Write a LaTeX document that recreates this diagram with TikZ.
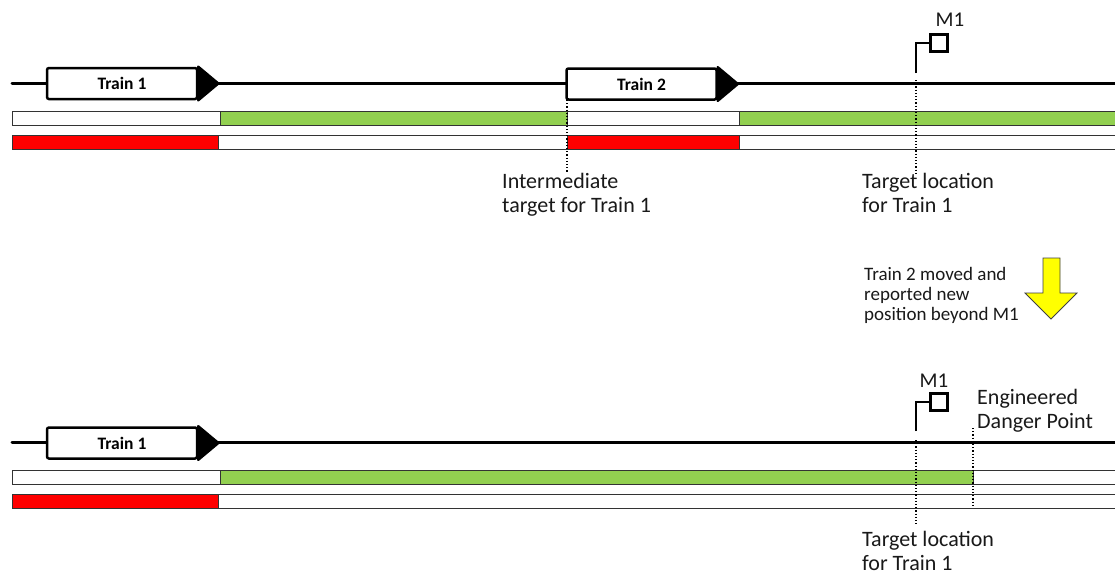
\documentclass[tikz,border=0pt]{standalone}
\usepackage{fontspec}
\setmainfont{Carlito}
\usetikzlibrary{calc}
\definecolor{bargreen}{HTML}{92D050}
\definecolor{barred}{HTML}{FF0000}
\definecolor{arrowyellow}{HTML}{FFFF00}
\tikzset{
  track/.style={line width=3pt, line cap=round},
  trainbox/.style={draw, fill=white, line width=2.5pt, rounded corners=2pt, minimum width=150pt, minimum height=31pt, inner sep=0pt, font=\fontsize{17.5}{20}\selectfont\bfseries},
  trainhead/.style={fill=black, draw, line width=2.5pt, line join=round},
  barseg/.style={draw=black!80, line width=0.8pt},
  signalpost/.style={line width=2.5pt},
  signalbox/.style={draw, fill=white, line width=2.5pt, minimum size=17pt, inner sep=0pt},
  marker/.style={dotted, line width=1.2pt},
  lbl/.style={font=\fontsize{22}{24}\selectfont, align=left, inner sep=0pt, text=black!90},
  smalllbl/.style={font=\fontsize{19}{20}\selectfont, align=left, inner sep=0pt, text=black!90},
  siglbl/.style={font=\fontsize{21}{22}\selectfont, inner sep=0pt, text=black!90},
}
\begin{document}
\begin{tikzpicture}[x=1pt,y=-1pt]
\clip (0,0) rectangle (1115,573);
\fill[white] (0,0) rectangle (1115,573);

% ===== Top situation =====
\coordinate (trA) at (12,83);
\coordinate (trB) at (1120,83);
\draw[track] (trA) -- (trB);

% bars
\draw[barseg, fill=white] (12,111) rectangle (1120,125);
\draw[barseg, fill=bargreen] (220,111) rectangle (567,125);
\draw[barseg, fill=bargreen] (739,111) rectangle (1120,125);
\draw[barseg, fill=white] (12,135) rectangle (1120,149);
\draw[barseg, fill=barred] (12,135) rectangle (218,149);
\draw[barseg, fill=barred] (567,135) rectangle (739,149);

% trains
\node[trainbox] (t1) at (122,83.5) {Train 1};
\draw[trainhead] (t1.north east) -- ($(t1.east)+(20,0)$) -- (t1.south east) -- cycle;
\node[trainbox] (t2) at (641.5,84) {Train 2};
\draw[trainhead] (t2.north east) -- ($(t2.east)+(20,0)$) -- (t2.south east) -- cycle;

% signal M1
\coordinate (m1foot) at (916,73);
\coordinate (m1knee) at (916,43);
\node[signalbox] (m1box) at (939,43) {};
\draw[signalpost] (m1foot) -- (m1knee) -- (m1box.west);
\node[siglbl] (m1lbl) at (950,20) {M1};

% labels and markers
\node[lbl, anchor=north west] (intlbl) at (502,173) {Intermediate\\target for Train 1};
\coordinate (intTop) at (567,100);
\draw[marker] (intTop) -- (intTop |- intlbl.north);

\node[lbl, anchor=north west] (tgtlbl) at (862,173) {Target location\\for Train 1};
\coordinate (tgtTop) at (916,80);
\draw[marker] (tgtTop) -- (tgtTop |- tgtlbl.north);

% transition arrow
\node[smalllbl, anchor=north west] (movelbl) at (864,267) {Train 2 moved and\\reported new\\position beyond M1};
\draw[fill=arrowyellow, draw=black!75, line width=0.8pt, line join=miter]
  (1043,258) -- (1060,258) -- (1060,293) -- (1077,293) -- (1051,319) -- (1025,293) -- (1043,293) -- cycle;

% ===== Bottom situation =====
\begin{scope}[shift={(0,359)}]
\coordinate (brA) at (12,83);
\coordinate (brB) at (1120,83);
\draw[track] (brA) -- (brB);

\draw[barseg, fill=white] (12,111) rectangle (1120,125);
\draw[barseg, fill=bargreen] (220,111) rectangle (973,125);
\draw[barseg, fill=white] (12,135) rectangle (1120,149);
\draw[barseg, fill=barred] (12,135) rectangle (218,149);

\node[trainbox] (bt1) at (122,84) {Train 1};
\draw[trainhead] (bt1.north east) -- ($(bt1.east)+(20,0)$) -- (bt1.south east) -- cycle;

\coordinate (bm1foot) at (916,72);
\coordinate (bm1knee) at (916,43);
\node[signalbox] (bm1box) at (939,43) {};
\draw[signalpost] (bm1foot) -- (bm1knee) -- (bm1box.west);
\node[siglbl] (bm1lbl) at (934,22) {M1};

\node[lbl, anchor=north west] (edplbl) at (977,30) {Engineered\\Danger Point};
\coordinate (edpTop) at (973,69);
\coordinate (edpBot) at (973,148);
\draw[marker] (edpTop) -- (edpBot);

\node[lbl, anchor=north west] (btgtlbl) at (862,172) {Target location\\for Train 1};
\coordinate (btgtTop) at (916,81);
\coordinate (btgtBot) at (916,166);
\draw[marker] (btgtTop) -- (btgtBot);
\end{scope}
\end{tikzpicture}
\end{document}
